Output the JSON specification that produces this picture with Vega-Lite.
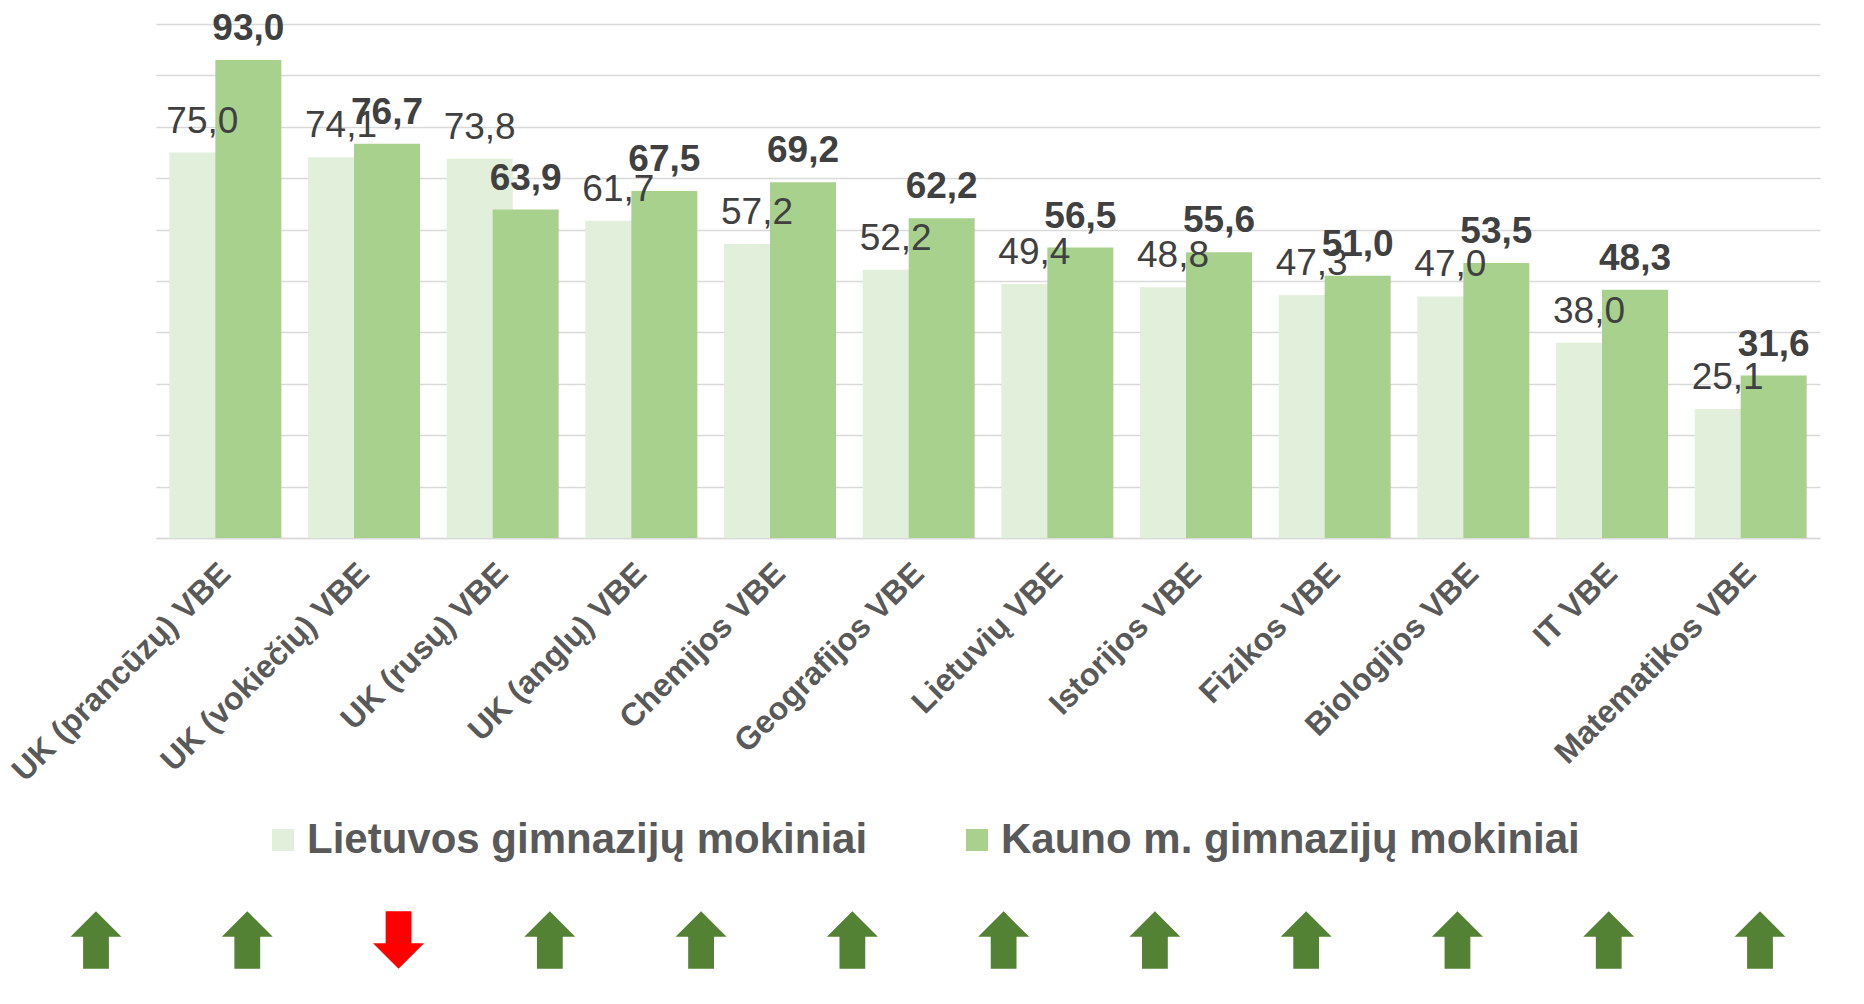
{
  "$schema": "https://vega.github.io/schema/vega-lite/v6.json",
  "autosize": {"type": "none"},
  "width": 1664,
  "height": 514,
  "padding": {"left": 156, "top": 24, "right": 44, "bottom": 466},
  "background": "white",
  "config": {
    "locale": {"number": {"decimal": ",", "thousands": " ", "grouping": [3], "currency": ["", " €"]}},
    "view": {"stroke": null},
    "font": "Liberation Sans"
  },
  "datasets": {
    "scores": [
      {"cat": "UK (prancūzų) VBE", "series": "Lietuvos gimnazijų mokiniai", "value": 75.0},
      {"cat": "UK (prancūzų) VBE", "series": "Kauno m. gimnazijų mokiniai", "value": 93.0},
      {"cat": "UK (vokiečių) VBE", "series": "Lietuvos gimnazijų mokiniai", "value": 74.1},
      {"cat": "UK (vokiečių) VBE", "series": "Kauno m. gimnazijų mokiniai", "value": 76.7},
      {"cat": "UK (rusų) VBE", "series": "Lietuvos gimnazijų mokiniai", "value": 73.8},
      {"cat": "UK (rusų) VBE", "series": "Kauno m. gimnazijų mokiniai", "value": 63.9},
      {"cat": "UK (anglų) VBE", "series": "Lietuvos gimnazijų mokiniai", "value": 61.7},
      {"cat": "UK (anglų) VBE", "series": "Kauno m. gimnazijų mokiniai", "value": 67.5},
      {"cat": "Chemijos VBE", "series": "Lietuvos gimnazijų mokiniai", "value": 57.2},
      {"cat": "Chemijos VBE", "series": "Kauno m. gimnazijų mokiniai", "value": 69.2},
      {"cat": "Geografijos VBE", "series": "Lietuvos gimnazijų mokiniai", "value": 52.2},
      {"cat": "Geografijos VBE", "series": "Kauno m. gimnazijų mokiniai", "value": 62.2},
      {"cat": "Lietuvių VBE", "series": "Lietuvos gimnazijų mokiniai", "value": 49.4},
      {"cat": "Lietuvių VBE", "series": "Kauno m. gimnazijų mokiniai", "value": 56.5},
      {"cat": "Istorijos VBE", "series": "Lietuvos gimnazijų mokiniai", "value": 48.8},
      {"cat": "Istorijos VBE", "series": "Kauno m. gimnazijų mokiniai", "value": 55.6},
      {"cat": "Fizikos VBE", "series": "Lietuvos gimnazijų mokiniai", "value": 47.3},
      {"cat": "Fizikos VBE", "series": "Kauno m. gimnazijų mokiniai", "value": 51.0},
      {"cat": "Biologijos VBE", "series": "Lietuvos gimnazijų mokiniai", "value": 47.0},
      {"cat": "Biologijos VBE", "series": "Kauno m. gimnazijų mokiniai", "value": 53.5},
      {"cat": "IT VBE", "series": "Lietuvos gimnazijų mokiniai", "value": 38.0},
      {"cat": "IT VBE", "series": "Kauno m. gimnazijų mokiniai", "value": 48.3},
      {"cat": "Matematikos VBE", "series": "Lietuvos gimnazijų mokiniai", "value": 25.1},
      {"cat": "Matematikos VBE", "series": "Kauno m. gimnazijų mokiniai", "value": 31.6}
    ],
    "arrows": [
      {"cat": "UK (prancūzų) VBE", "dir": "up"},
      {"cat": "UK (vokiečių) VBE", "dir": "up"},
      {"cat": "UK (rusų) VBE", "dir": "down"},
      {"cat": "UK (anglų) VBE", "dir": "up"},
      {"cat": "Chemijos VBE", "dir": "up"},
      {"cat": "Geografijos VBE", "dir": "up"},
      {"cat": "Lietuvių VBE", "dir": "up"},
      {"cat": "Istorijos VBE", "dir": "up"},
      {"cat": "Fizikos VBE", "dir": "up"},
      {"cat": "Biologijos VBE", "dir": "up"},
      {"cat": "IT VBE", "dir": "up"},
      {"cat": "Matematikos VBE", "dir": "up"}
    ]
  },
  "layer": [
    {
      "data": {"name": "scores"},
      "encoding": {
        "x": {
          "field": "cat", "type": "nominal", "sort": null,
          "scale": {"paddingInner": 0, "paddingOuter": 0},
          "axis": {
            "title": null, "labelAngle": -45, "labelAlign": "right", "labelBaseline": "middle",
            "labelFont": "Liberation Sans", "labelFontSize": 32, "labelFontWeight": "bold",
            "labelColor": "#595959", "labelPadding": 30, "ticks": false,
            "domainColor": "#d9d9d9", "domainWidth": 1.5, "grid": false, "labelLimit": 1000
          }
        },
        "y": {
          "field": "value", "type": "quantitative",
          "scale": {"domain": [0, 100], "nice": false},
          "axis": {
            "title": null, "labels": false, "ticks": false, "domain": false, "grid": true,
            "gridColor": "#d9d9d9", "gridWidth": 1.3,
            "values": [0, 10, 20, 30, 40, 50, 60, 70, 80, 90, 100]
          }
        }
      },
      "layer": [
        {
          "transform": [{"filter": "datum.series === 'Lietuvos gimnazijų mokiniai'"}],
          "mark": {"type": "bar", "width": 66, "xOffset": -23},
          "encoding": {
            "color": {
              "field": "series", "type": "nominal",
              "scale": {"domain": ["Lietuvos gimnazijų mokiniai", "Kauno m. gimnazijų mokiniai"], "range": ["#E2EFDA", "#A9D18E"]},
              "legend": {
                "orient": "none", "legendX": 106, "legendY": 795, "direction": "horizontal", "title": null,
                "labelFont": "Liberation Sans", "labelFontSize": 42, "labelFontWeight": "bold", "labelColor": "#595959",
                "symbolType": "square", "symbolSize": 484, "symbolStrokeWidth": 0, "labelOffset": 3,
                "columnPadding": 88, "labelLimit": 1000, "padding": 0
              }
            }
          }
        },
        {
          "transform": [{"filter": "datum.series === 'Kauno m. gimnazijų mokiniai'"}],
          "mark": {"type": "bar", "width": 66, "xOffset": 23},
          "encoding": {
            "color": {
              "field": "series", "type": "nominal",
              "scale": {"domain": ["Lietuvos gimnazijų mokiniai", "Kauno m. gimnazijų mokiniai"], "range": ["#E2EFDA", "#A9D18E"]}
            }
          }
        },
        {
          "transform": [{"filter": "datum.series === 'Lietuvos gimnazijų mokiniai'"}],
          "mark": {"type": "text", "align": "center", "baseline": "alphabetic", "dy": -20, "xOffset": -23, "fontSize": 37, "font": "Liberation Sans", "fill": "#404040"},
          "encoding": {"text": {"field": "value", "type": "quantitative", "format": ".1f"}}
        },
        {
          "transform": [{"filter": "datum.series === 'Kauno m. gimnazijų mokiniai'"}],
          "mark": {"type": "text", "align": "center", "baseline": "alphabetic", "dy": -20, "xOffset": 23, "fontSize": 37, "fontWeight": "bold", "font": "Liberation Sans", "fill": "#404040"},
          "encoding": {"text": {"field": "value", "type": "quantitative", "format": ".1f"}}
        }
      ]
    },
    {
      "data": {"name": "arrows"},
      "mark": {"type": "point", "filled": true, "size": 3283, "xOffset": -60, "yOffset": 402, "strokeWidth": 0, "opacity": 1},
      "encoding": {
        "x": {"field": "cat", "type": "ordinal", "sort": null, "scale": {"type": "point", "padding": 0}, "axis": null},
        "y": {"datum": 0},
        "shape": {
          "field": "dir", "type": "nominal",
          "scale": {"domain": ["up", "down"], "range": ["M0,-1L0.89,-0.11L0.45,-0.11L0.45,1L-0.45,1L-0.45,-0.11L-0.89,-0.11Z", "M0,1L0.89,0.11L0.45,0.11L0.45,-1L-0.45,-1L-0.45,0.11L-0.89,0.11Z"]},
          "legend": null
        },
        "fill": {
          "field": "dir", "type": "nominal",
          "scale": {"domain": ["up", "down"], "range": ["#548235", "#FF0000"]},
          "legend": null
        }
      }
    }
  ],
  "resolve": {"scale": {"x": "independent"}}
}
